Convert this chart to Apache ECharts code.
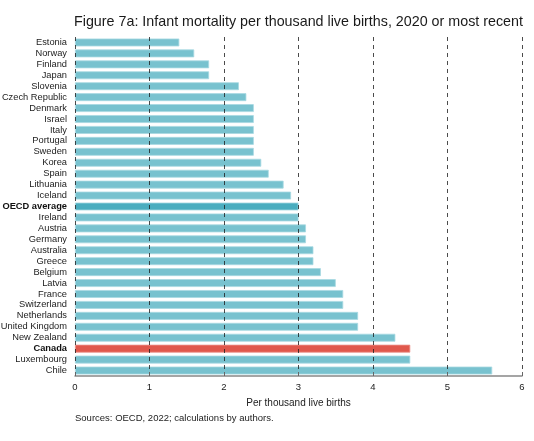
<!DOCTYPE html>
<html><head><meta charset="utf-8">
<script src="https://cdn.jsdelivr.net/npm/echarts@6/dist/echarts.min.js"></script>
<style>html,body{margin:0;padding:0;background:#fff}#c{width:534px;height:441px}</style>
</head><body><div id="c"></div>
<script>
var categories = ["Estonia","Norway","Finland","Japan","Slovenia","Czech Republic","Denmark","Israel","Italy","Portugal","Sweden","Korea","Spain","Lithuania","Iceland","OECD average","Ireland","Austria","Germany","Australia","Greece","Belgium","Latvia","France","Switzerland","Netherlands","United Kingdom","New Zealand","Canada","Luxembourg","Chile"];
var values = [1.4,1.6,1.8,1.8,2.2,2.3,2.4,2.4,2.4,2.4,2.4,2.5,2.6,2.8,2.9,3.0,3.0,3.1,3.1,3.2,3.2,3.3,3.5,3.6,3.6,3.8,3.8,4.3,4.5,4.5,5.6];
var xTicks = [0,1,2,3,4,5,6];
var highlight = {"OECD average":"#4AADBF","Canada":"#E0584C"};
var baseColor = "#78C2CF";
var FONT = "'Liberation Sans',Arial,sans-serif";

var chart = echarts.init(document.getElementById('c'));
var data = values.map(function(v,i){
  var c = highlight[categories[i]] || baseColor;
  return {value:v, itemStyle:{color:c, borderColor: categories[i]==="Canada" ? "#EC9088" : "#A8D9E2", borderWidth:0.8}};
});
chart.setOption({
  animation:false,
  title:[{
    text:"Figure 7a: Infant mortality per thousand live births, 2020 or most recent",
    left:69, top:10,
    textStyle:{fontFamily:FONT, fontSize:14.3, fontWeight:'normal', color:'#1a1a1a'}
  },{
    text:"Sources: OECD, 2022; calculations by authors.",
    left:70, top:408,
    textStyle:{fontFamily:FONT, fontSize:9.5, fontWeight:'normal', color:'#222'}
  }],
  grid:{left:75, right:12, top:37, bottom:65, containLabel:false, outerBoundsMode:'none'},
  xAxis:{
    type:'value', min:xTicks[0], max:xTicks[xTicks.length-1], interval:1,
    z:3,
    name:"Per thousand live births", nameLocation:'middle', nameGap:22,
    nameTextStyle:{fontFamily:FONT, fontSize:10, color:'#222'},
    axisLine:{show:true, lineStyle:{color:'#888', width:1.5}},
    axisTick:{show:true, inside:true, length:4, lineStyle:{color:'#666'}},
    axisLabel:{fontFamily:FONT, fontSize:9.5, color:'#222', margin:6},
    splitLine:{show:true, lineStyle:{color:'rgba(30,30,30,0.8)', type:[4,4], width:1}}
  },
  yAxis:{
    type:'category', data:categories, inverse:true,
    axisLine:{show:false}, axisTick:{show:false},
    axisLabel:{interval:0, fontFamily:FONT, fontSize:9.3, color:'#222', margin:8,
      formatter:function(v){ return (v==="Canada"||v==="OECD average") ? '{b|'+v+'}' : v; },
      rich:{b:{fontFamily:FONT, fontSize:9.3, fontWeight:'bold', color:'#111'}}
    }
  },
  series:[{
    type:'bar', data:data, barWidth:'72%', z:2
  }]
});
</script></body></html>
